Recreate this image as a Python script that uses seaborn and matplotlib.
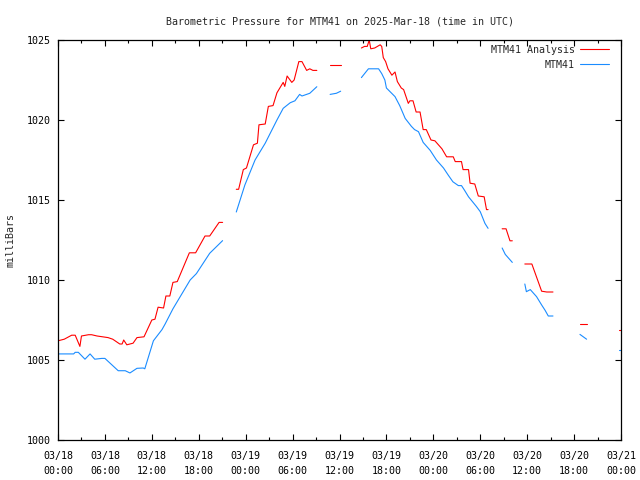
import numpy as np
import pandas as pd
import matplotlib
matplotlib.use("Agg")
import matplotlib.pyplot as plt
import matplotlib.dates as mdates
import seaborn as sns

# hours since 2025-03-18 00:00 UTC, NaN = gap in record
analysis_hours = [0.0, 0.8, 1.75, 2.2, 2.8, 3.0, 3.9, 4.3, 5.0, 6.4, 7.0, 7.9, 8.2, 8.4, 8.8,
                  9.6, 10.1, 11.0, 12.0, 12.4, 12.8, 13.5, 13.8, 14.3, 14.7, 15.25, 16.8, 17.6,
                  18.8, 19.4, 20.6, 21.05, np.nan,
                  22.8, 23.1, 23.7, 24.1, 25.0, 25.5, 25.7, 26.5, 26.9, 27.5, 28.0, 28.8, 29.0,
                  29.3, 29.9, 30.2, 30.8, 31.2, 31.8, 32.2, 32.6, 33.1, np.nan,
                  34.8, 36.15, np.nan,
                  38.8, 39.2, 39.55, 39.8, 40.0, 40.5, 41.2, 41.4, 41.6, 41.9, 42.2, 42.7, 43.1,
                  43.4, 43.9, 44.2, 44.8, 45.0, 45.4, 45.8, 46.3, 46.7, 47.1, 47.7, 48.2, 49.1,
                  49.7, 50.55, 50.8, 51.6, 51.8, 52.5, 52.7, 53.3, 53.75, 54.5, 54.8, 55.0, np.nan,
                  56.8, 57.3, 57.8, 58.1, np.nan,
                  59.7, 60.6, 61.85, 62.5, 63.3, np.nan,
                  66.75, 67.6, np.nan,
                  71.75, 72.0]
analysis_mb = [1006.2, 1006.3, 1006.55, 1006.55, 1005.85, 1006.5, 1006.58, 1006.58, 1006.5,
               1006.4, 1006.3, 1006.0, 1006.0, 1006.25, 1005.95, 1006.05, 1006.4, 1006.45,
               1007.5, 1007.55, 1008.3, 1008.25, 1009.0, 1009.0, 1009.85, 1009.9, 1011.7,
               1011.7, 1012.75, 1012.75, 1013.6, 1013.6, np.nan,
               1015.67, 1015.67, 1016.9, 1017.0, 1018.45, 1018.55, 1019.7, 1019.75, 1020.85,
               1020.9, 1021.7, 1022.35, 1022.1, 1022.75, 1022.35, 1022.5, 1023.65, 1023.65,
               1023.1, 1023.2, 1023.1, 1023.1, np.nan,
               1023.45, 1023.45, np.nan,
               1024.5, 1024.6, 1024.6, 1025.0, 1024.45, 1024.5, 1024.7, 1024.6, 1023.9, 1023.65,
               1023.2, 1022.8, 1023.0, 1022.4, 1022.0, 1021.9, 1021.04, 1021.2, 1021.2, 1020.5,
               1020.5, 1019.4, 1019.4, 1018.75, 1018.7, 1018.2, 1017.7, 1017.7, 1017.4, 1017.4,
               1016.9, 1016.9, 1016.05, 1016.0, 1015.25, 1015.2, 1014.4, 1014.4, np.nan,
               1013.2, 1013.2, 1012.45, 1012.45, np.nan,
               1011.0, 1011.0, 1009.3, 1009.25, 1009.25, np.nan,
               1007.25, 1007.25, np.nan,
               1006.85, 1006.85]

station_hours = [0.0, 2.0, 2.2, 2.6, 3.45, 4.1, 4.7, 5.6, 6.0, 7.7, 8.6, 9.2, 10.1, 10.9, 11.1,
                 12.2, 13.3, 13.7, 14.7, 16.9, 17.7, 19.4, 21.05, np.nan,
                 22.8, 23.9, 25.2, 26.5, 28.0, 28.8, 29.7, 30.3, 30.9, 31.2, 32.2, 33.1, np.nan,
                 34.8, 35.6, 36.15, np.nan,
                 38.8, 39.7, 41.0, 41.4, 41.8, 42.0, 43.1, 43.7, 44.4, 45.2, 45.6, 46.1, 46.7,
                 47.6, 48.4, 49.3, 49.9, 50.5, 51.2, 51.6, 52.0, 52.5, 53.5, 54.0, 54.6, 55.0, np.nan,
                 56.8, 57.2, 58.1, np.nan,
                 59.7, 59.9, 60.4, 61.2, 61.85, 62.3, 62.7, 63.3, np.nan,
                 66.75, 67.6, np.nan,
                 71.75, 72.0]
station_mb = [1005.38, 1005.38, 1005.48, 1005.48, 1005.05, 1005.38, 1005.05, 1005.1, 1005.1,
              1004.33, 1004.33, 1004.19, 1004.48, 1004.5, 1004.45, 1006.2, 1006.9, 1007.25,
              1008.2, 1010.0, 1010.4, 1011.67, 1012.46, np.nan,
              1014.25, 1015.94, 1017.5, 1018.55, 1020.0, 1020.73, 1021.08, 1021.2, 1021.6,
              1021.5, 1021.67, 1022.08, np.nan,
              1021.6, 1021.67, 1021.8, np.nan,
              1022.65, 1023.2, 1023.2, 1022.9, 1022.5, 1022.0, 1021.46, 1020.9, 1020.1, 1019.6,
              1019.4, 1019.27, 1018.6, 1018.1, 1017.5, 1017.0, 1016.56, 1016.14, 1015.9, 1015.9,
              1015.6, 1015.2, 1014.6, 1014.27, 1013.54, 1013.23, np.nan,
              1012.0, 1011.6, 1011.1, np.nan,
              1009.75, 1009.27, 1009.4, 1008.96, 1008.44, 1008.1, 1007.75, 1007.75, np.nan,
              1006.6, 1006.3, np.nan,
              1005.6, 1005.6]

series_names = ["MTM41 Analysis", "MTM41"]
series_colors = ["#ff0000", "#1a8cff"]
start = pd.Timestamp("2025-03-18 00:00")


def to_frame(hours, vals, name):
    df = pd.DataFrame({"h": hours, "mb": vals})
    df["seg"] = df["h"].isna().cumsum()  # new segment after every gap
    df = df.dropna()
    df["time"] = start + pd.to_timedelta(df["h"], unit="h")
    df["series"] = name
    df["seg"] = name + "_" + df["seg"].astype(str)
    return df


data = pd.concat([to_frame(analysis_hours, analysis_mb, series_names[0]),
                  to_frame(station_hours, station_mb, series_names[1])], ignore_index=True)

sns.set_theme(style="ticks")
plt.rcParams["font.family"] = ["DejaVu Sans Mono"]
plt.rcParams["font.size"] = 7.2

fig = plt.figure(figsize=(6.4, 4.8), dpi=100)
ax = fig.add_axes([58 / 640, 40 / 480, 563 / 640, 400 / 480])

sns.lineplot(data=data, x="time", y="mb", hue="series", units="seg", estimator=None,
             palette=dict(zip(series_names, series_colors)), hue_order=series_names,
             linewidth=0.8, sort=False, ax=ax)

ax.set_xlim(start, start + pd.Timedelta(hours=72))
ax.set_ylim(1000, 1025)
ax.set_yticks(np.arange(1000, 1026, 5))
ax.xaxis.set_major_locator(mdates.HourLocator(byhour=[0, 6, 12, 18]))
ax.xaxis.set_minor_locator(mdates.HourLocator(byhour=[3, 9, 15, 21]))
ax.xaxis.set_major_formatter(mdates.DateFormatter("%m/%d\n%H:%M"))
ax.tick_params(which="both", direction="in", top=True, right=True, colors="black",
               labelsize=7.2, width=0.8)
ax.tick_params(which="major", length=4)
ax.tick_params(which="minor", length=2)
ax.tick_params(axis="x", pad=8)
ax.tick_params(axis="y", pad=5.5)
for lbl in ax.get_xticklabels():
    lbl.set_linespacing(1.6)
for s in ax.spines.values():
    s.set_color("black")
    s.set_linewidth(0.9)

ax.set_xlabel("")
ax.set_ylabel("milliBars", fontsize=7.2)
ax.yaxis.set_label_coords(-0.076, 0.5)
ax.set_title("Barometric Pressure for MTM41 on 2025-Mar-18 (time in UTC)", fontsize=7.2, pad=11.5)

handles, labels = ax.get_legend_handles_labels()
leg = ax.legend(handles, labels, loc="upper right", bbox_to_anchor=((609 - 58) / 563, 0.988),
                frameon=False, markerfirst=False, handlelength=2.9, handletextpad=0.5,
                labelspacing=0.5, borderaxespad=0, borderpad=0, fontsize=7.2)
for line in leg.get_lines():
    line.set_linewidth(0.8)

fig.savefig("out.png", dpi=100)
